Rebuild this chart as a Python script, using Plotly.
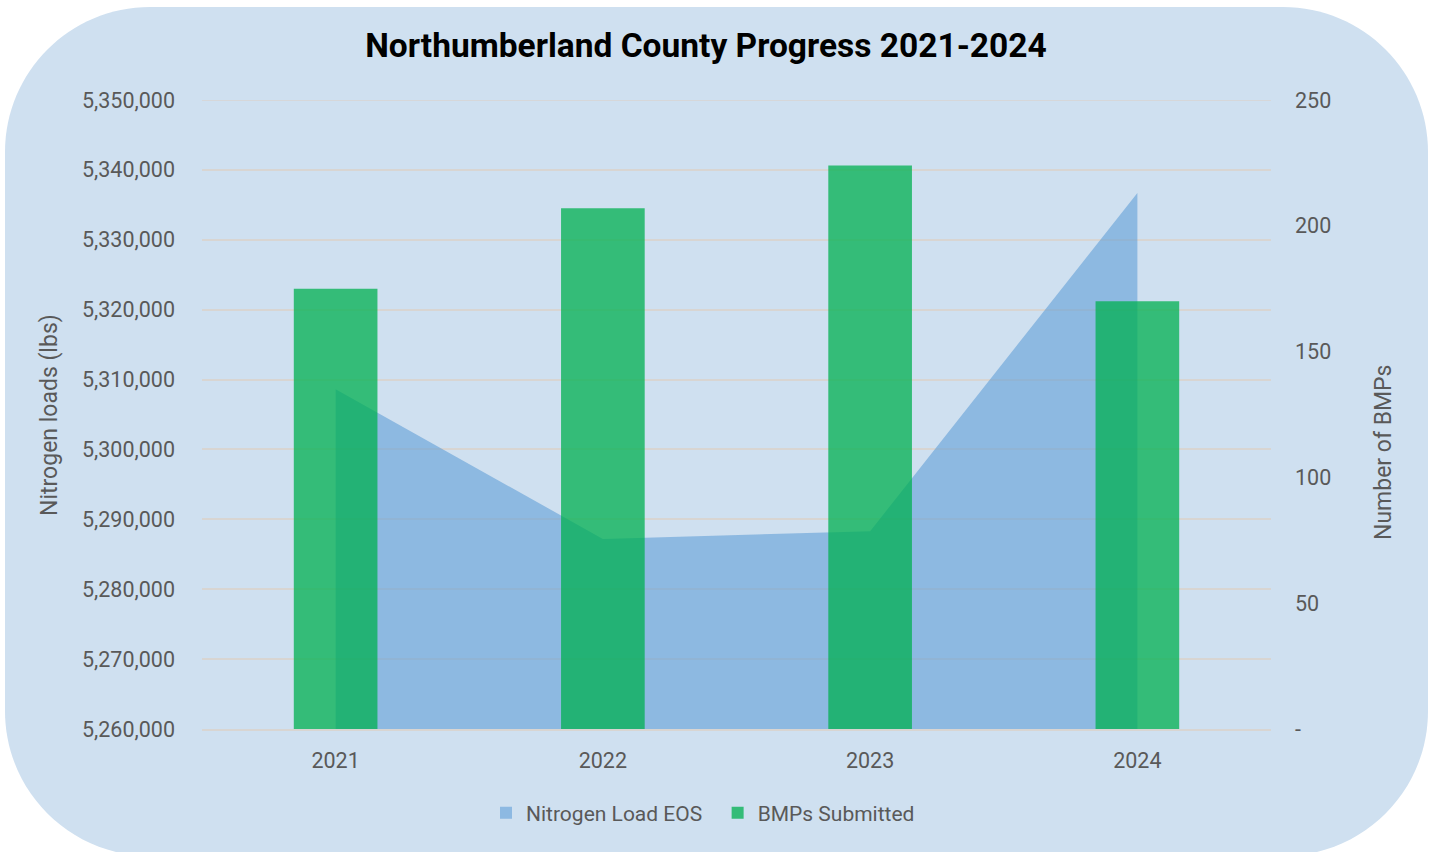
import plotly.graph_objects as go

years = ["2021", "2022", "2023", "2024"]
nitrogen_load = [5308600, 5287200, 5288300, 5336700]
bmps_submitted = [175, 207, 224, 170]
left_ticks = [5260000, 5270000, 5280000, 5290000, 5300000, 5310000, 5320000, 5330000, 5340000, 5350000]
right_tickvals = [0, 50, 100, 150, 200, 250]
right_ticktext = ["-", "50", "100", "150", "200", "250"]

W, H = 1435, 852
ML, MR, MT, MB = 202, 164, 100, 123
PW = W - ML - MR
PH = H - MT - MB


def fx(px):
    return (px - ML) / PW


def fy(py):
    return (H - MB - py) / PH


def rounded_rect(L, T, R, B, r):
    k = 0.5523 * r
    pts = [
        f"M {fx(L + r)},{fy(T)}",
        f"L {fx(R - r)},{fy(T)}",
        f"C {fx(R - r + k)},{fy(T)} {fx(R)},{fy(T + r - k)} {fx(R)},{fy(T + r)}",
        f"L {fx(R)},{fy(B - r)}",
        f"C {fx(R)},{fy(B - r + k)} {fx(R - r + k)},{fy(B)} {fx(R - r)},{fy(B)}",
        f"L {fx(L + r)},{fy(B)}",
        f"C {fx(L + r - k)},{fy(B)} {fx(L)},{fy(B - r + k)} {fx(L)},{fy(B - r)}",
        f"L {fx(L)},{fy(T + r)}",
        f"C {fx(L)},{fy(T + r - k)} {fx(L + r - k)},{fy(T)} {fx(L + r)},{fy(T)}",
        "Z",
    ]
    return " ".join(pts)


FONT = "Roboto"
GRAY = "#595959"
GRID = "#D8D5D2"
AREA = "rgba(91,155,213,0.57)"
BAR = "rgba(0,176,80,0.75)"

fig = go.Figure()
fig.add_trace(go.Scatter(
    x=years, y=nitrogen_load, name="Nitrogen Load EOS",
    mode="lines", line=dict(width=0, color=AREA),
    fill="tozeroy", fillcolor=AREA, yaxis="y", showlegend=False,
    hoverinfo="skip",
))
# legend-only square swatch for the area series
fig.add_trace(go.Bar(
    x=years, y=[None] * len(years), name="Nitrogen Load EOS&nbsp;&nbsp;",
    marker=dict(color="#8DB9E2", line=dict(width=0)), yaxis="y",
    showlegend=True, hoverinfo="skip",
))
fig.add_trace(go.Bar(
    x=years, y=bmps_submitted, name="BMPs Submitted",
    marker=dict(color=BAR, line=dict(width=0)),
    width=0.313, yaxis="y2",
))

fig.add_shape(type="path", path=rounded_rect(5, 7, 1428, 856, 145),
              xref="paper", yref="paper", layer="below",
              fillcolor="#CFE0F0", line=dict(width=0))
# top gridline (at the range edge)
fig.add_shape(type="line", xref="paper", yref="y", x0=0, x1=1,
              y0=left_ticks[-1], y1=left_ticks[-1], layer="below",
              line=dict(color=GRID, width=1.5))

# axis titles placed as annotations
fig.add_annotation(text="Nitrogen loads (lbs)", textangle=-90,
                   xref="paper", yref="paper", x=fx(49), y=fy(415),
                   xanchor="center", yanchor="middle", showarrow=False,
                   font=dict(family=FONT, size=23, color=GRAY))
fig.add_annotation(text="Number of BMPs", textangle=-90,
                   xref="paper", yref="paper", x=fx(1383), y=fy(453),
                   xanchor="center", yanchor="middle", showarrow=False,
                   font=dict(family=FONT, size=23, color=GRAY))

fig.update_layout(
    width=W, height=H,
    margin=dict(l=ML, r=MR, t=MT, b=MB),
    paper_bgcolor="white", plot_bgcolor="rgba(0,0,0,0)",
    font=dict(family=FONT, color=GRAY, size=21),
    barmode="overlay",
    title=dict(text="<b>Northumberland County Progress 2021-2024</b>",
               x=706 / W, xanchor="center", y=1 - 45 / H, yanchor="middle",
               font=dict(family=FONT, size=33.5, color="black")),
    xaxis=dict(type="category", range=[-0.5, 3.5], showgrid=False,
               showline=True, linecolor=GRID, linewidth=1.5,
               tickfont=dict(size=21.5, color=GRAY), ticks="",
               ticklabelstandoff=11),
    yaxis=dict(range=[5260000, 5350000], tickvals=left_ticks,
               tickformat=",d", showgrid=True, gridcolor=GRID, gridwidth=1.5,
               zeroline=False, tickfont=dict(size=21.5, color=GRAY),
               ticklabelstandoff=26),
    yaxis2=dict(range=[0, 250], overlaying="y", side="right",
                tickvals=right_tickvals, ticktext=right_ticktext,
                showgrid=False, zeroline=False,
                tickfont=dict(size=21.5, color=GRAY), ticklabelstandoff=23),
    legend=dict(orientation="h", x=fx(703), xanchor="center",
                y=fy(813), yanchor="middle",
                bgcolor="rgba(0,0,0,0)", font=dict(size=21, color=GRAY),
                itemwidth=30, traceorder="normal"),
    showlegend=True,
)

fig.write_html("out.html", config={"displayModeBar": False},
               post_script="document.body.style.margin='0';")
